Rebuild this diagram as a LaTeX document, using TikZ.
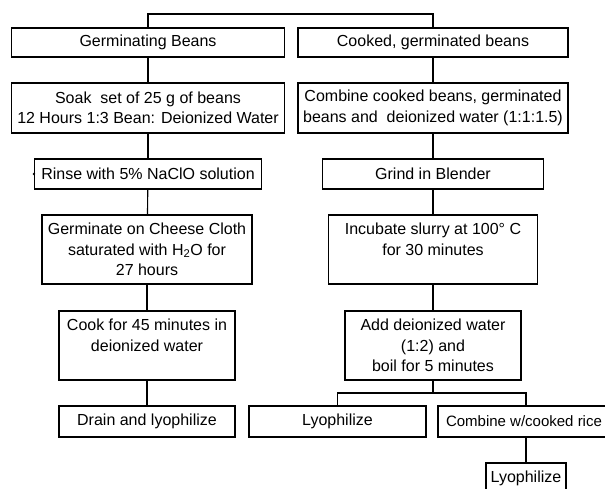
\documentclass[tikz,border=0pt]{standalone}
\usepackage{fontspec}
\setmainfont{Liberation Sans}

\begin{document}
\begin{tikzpicture}[x=1pt,y=-1pt,
    stepbox/.style={draw,line width=1.1pt,align=center,inner sep=0pt,
      font=\fontsize{16}{20.5}\selectfont},
    link/.style={line width=1.1pt}
    ]
  \fill[white] (0,0) rectangle (605,489);
  \useasboundingbox (0,0) rectangle (605,489);
  \clip (0,0) rectangle (605,489);

  % left column
  \node (gb) [stepbox,minimum width=273pt,minimum height=29pt] at (148,42.5) {Germinating Beans};
  \node (soak) [stepbox,minimum width=273pt,minimum height=50pt] at (148,108) {Soak \ set of 25 g of beans\\12 Hours 1:3 Bean: Deionized Water};
  \node (rinse) [stepbox,minimum width=227pt,minimum height=30pt] at (148,174) {Rinse with 5\% NaClO solution};
  \node (germ) [stepbox,minimum width=210pt,minimum height=69pt] at (147,249.5) {Germinate on Cheese Cloth\\saturated with H\textsubscript{2}O for\\27 hours};
  \node (cook) [stepbox,minimum width=176pt,minimum height=69pt] at (147,345.5) {Cook for 45 minutes in\\deionized water\\\mbox{}};
  \node (drain) [stepbox,minimum width=176pt,minimum height=31pt] at (147,421.5) {Drain and lyophilize};

  % right column
  \node (cgb) [stepbox,minimum width=270pt,minimum height=29pt] at (433,42.5) {Cooked, germinated beans};
  \node (comb) [stepbox,minimum width=270pt,minimum height=50pt] at (433,108) {Combine cooked beans, germinated\\beans and \ deionized water (1:1:1.5)};
  \node (grind) [stepbox,minimum width=221pt,minimum height=30pt] at (433,174) {Grind in Blender};
  \node (incub) [stepbox,minimum width=209pt,minimum height=69pt] at (433,249.5) {Incubate slurry at 100° C\\for 30 minutes\\\mbox{}};
  \node (add) [stepbox,minimum width=176pt,minimum height=69pt] at (433,345.5) {Add deionized water\\(1:2) and\\boil for 5 minutes};
  \node (lyoa) [stepbox,minimum width=177pt,minimum height=31pt] at (337.5,421.5) {Lyophilize};
  \node (rice) [stepbox,minimum width=176pt,minimum height=31pt,font=\fontsize{15}{20.5}\selectfont] at (526,421.5) {Combine w/cooked rice\hspace{4pt}};
  \node (lyob) [stepbox,minimum width=80pt,minimum height=31pt] at (526,478.5) {Lyophilize};

  \coordinate (top) at (290,14);
  \coordinate (split) at (433,393);

  \draw[link] (gb.north) |- (top) -| (cgb.north);

  \foreach \a/\b in {gb/soak,soak/rinse,rinse/germ,germ/cook,cook/drain,
                     cgb/comb,comb/grind,grind/incub,incub/add,rice/lyob}
    \draw[link] (\a) -- (\b);

  \draw[link] (add) -- (split);
  \draw[link] (lyoa.north) |- (split) -| (rice.north);

  \fill (rinse.west) circle (1.3);
\end{tikzpicture}
\end{document}
